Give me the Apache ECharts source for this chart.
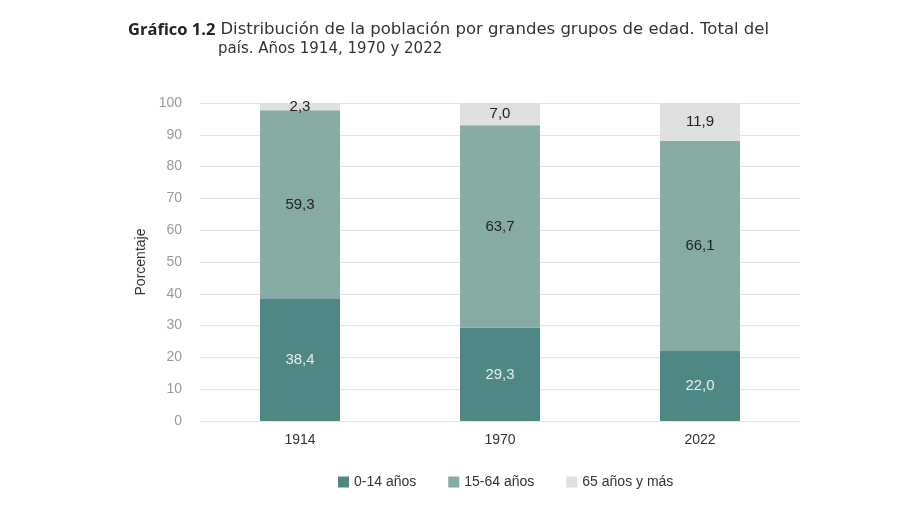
<!DOCTYPE html>
<html><head><meta charset="utf-8">
<script src="https://cdn.jsdelivr.net/npm/echarts@6/dist/echarts.min.js"></script>
<style>html,body{margin:0;padding:0;background:#fff}#c{width:900px;height:505px}</style>
</head><body><div id="c"></div>
<script>
const categories = ['1914', '1970', '2022'];
const age0_14 = [38.4, 29.3, 22.0];
const age15_64 = [59.3, 63.7, 66.1];
const age65 = [2.3, 7.0, 11.9];
const seriesNames = ['0-14 años', '15-64 años', '65 años y más'];
const yTicks = [0, 10, 20, 30, 40, 50, 60, 70, 80, 90, 100];

const F = '"Liberation Sans", Arial, sans-serif';
const fmt = p => p.value.toFixed(1).replace('.', ',');
const chart = echarts.init(document.getElementById('c'));
chart.setOption({
  animation: false,
  title: [
    { left: 123, top: 16, text: '{b|Gráfico 1.2} {n|Distribución de la población por grandes grupos de edad. Total del}',
      textStyle: { fontWeight: 'normal', rich: {
        b: { fontFamily: 'Open Sans', fontWeight: 'bold', fontSize: 16.5, color: '#222', verticalAlign: 'middle' },
        n: { fontFamily: 'DejaVu Sans', fontWeight: 'normal', fontSize: 16.5, color: '#333', verticalAlign: 'middle' } } } },
    { left: 213, top: 37, text: 'país. Años 1914, 1970 y 2022',
      textStyle: { fontFamily: 'DejaVu Sans', fontWeight: 'normal', fontSize: 15, color: '#333' } }
  ],
  grid: { left: 200, right: 100, top: 103, bottom: 84 },
  legend: {
    bottom: 11, left: 333, itemWidth: 11, itemHeight: 11, itemGap: 32,
    icon: 'rect',
    textStyle: { fontFamily: F, fontSize: 14, color: '#333' }
  },
  xAxis: {
    type: 'category', data: categories,
    axisLine: { show: false }, axisTick: { show: false },
    axisLabel: { fontFamily: F, fontSize: 14, color: '#333', margin: 12 }
  },
  yAxis: {
    type: 'value', min: 0, max: 100, interval: 10,
    name: 'Porcentaje', nameLocation: 'middle', nameGap: 47, nameRotate: 90,
    nameTextStyle: { fontFamily: F, fontSize: 14, color: '#333' },
    axisLabel: { fontFamily: F, fontSize: 14, color: '#999', margin: 18,
      formatter: v => yTicks.includes(v) ? String(v) : '' },
    splitLine: { lineStyle: { color: '#e3e3e3', width: 1 } }
  },
  series: [
    { name: seriesNames[0], type: 'bar', stack: 's', data: age0_14, barWidth: 80,
      itemStyle: { color: '#4f8784' },
      label: { show: true, position: 'inside', formatter: fmt, fontFamily: F, fontSize: 15, color: '#e6efee' } },
    { name: seriesNames[1], type: 'bar', stack: 's', data: age15_64, barWidth: 80,
      itemStyle: { color: '#86aaa4' },
      label: { show: true, position: 'inside', formatter: fmt, fontFamily: F, fontSize: 15, color: '#222' } },
    { name: seriesNames[2], type: 'bar', stack: 's', data: age65, barWidth: 80,
      itemStyle: { color: '#dde0dc' },
      label: { show: true, position: 'inside', formatter: fmt, fontFamily: F, fontSize: 15, color: '#222' } }
  ]
});
</script></body></html>
